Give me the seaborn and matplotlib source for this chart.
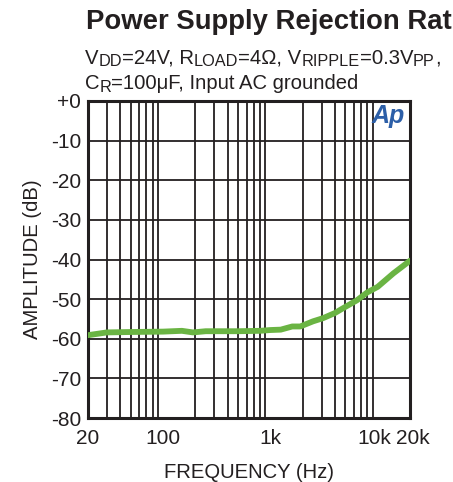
import matplotlib
matplotlib.use("Agg")
import matplotlib.pyplot as plt
import matplotlib.ticker as mticker
import matplotlib.transforms as mtransforms
import seaborn as sns
import pandas as pd

freq_hz = [20, 30, 50, 100, 150, 190, 250, 500, 800, 1000, 1250, 1600, 1900,
           2500, 3100, 4000, 4750, 6400, 8000, 10000, 14000, 20000]
amplitude_db = [-59.1, -58.4, -58.3, -58.2, -58.0, -58.4, -58.1, -58.1, -58.0, -57.8,
                -57.7, -56.9, -56.9, -55.6, -54.8, -53.5, -52.3, -50.3, -48.3, -46.9,
                -43.5, -40.3]
x_tick_vals = [20, 100, 1000, 10000, 20000]
x_tick_labels = ["20", "100", "1k", "10k", "20k"]
y_tick_vals = [0, -10, -20, -30, -40, -50, -60, -70, -80]
y_tick_labels = ["+0", "-10", "-20", "-30", "-40", "-50", "-60", "-70", "-80"]

sns.set_style("white")
plt.rcParams['font.family'] = ['Liberation Sans', 'DejaVu Sans']

df = pd.DataFrame({"freq": freq_hz, "amp": amplitude_db})

fig = plt.figure(figsize=(4.53, 4.82), dpi=100)
ax = fig.add_axes([88/453, 1-418/482, (410-88)/453, (418-101)/482])

ink = "#231f20"
ax.set_xscale("log")
ax.set_xlim(20, 20000)
ax.set_ylim(-80, 0)

minor_x = [v * d for d in (10, 100, 1000) for v in range(2, 10)]
for v in minor_x:
    if 20 < v < 20000:
        ax.axvline(v, color=ink, lw=1.3, zorder=1)
for v in [-10, -20, -30, -40, -50, -60, -70]:
    ax.axhline(v, color=ink, lw=1.3, zorder=1)

sns.lineplot(data=df, x="freq", y="amp", ax=ax, color="#6ab443", lw=4.2, zorder=3)

ax.xaxis.set_major_locator(mticker.FixedLocator(x_tick_vals))
ax.xaxis.set_major_formatter(mticker.FixedFormatter(x_tick_labels))
ax.xaxis.set_minor_locator(mticker.NullLocator())
ax.set_yticks(y_tick_vals)
ax.set_yticklabels(y_tick_labels)
ax.tick_params(axis="both", length=0, labelsize=15, colors=ink)
ax.tick_params(axis="x", pad=8)
ax.tick_params(axis="y", pad=5)

for s in ax.spines.values():
    s.set_color(ink)
    s.set_linewidth(2.2)
    s.set_visible(True)

ax.set_xlabel("FREQUENCY (Hz)", fontsize=14.6, color=ink, labelpad=11)
ax.set_ylabel("AMPLITUDE (dB)", fontsize=14.6, color=ink, labelpad=6)

fig.text(86/453, 1-22/482, "Power Supply Rejection Ratio", fontsize=19.8,
         fontweight="bold", color=ink, va="center", ha="left")

fig.canvas.draw()
renderer = fig.canvas.get_renderer()

# nudge the last two x labels apart as in the reference
shifts = {10000: -3, 20000: 3}
for tick in ax.xaxis.get_major_ticks():
    dx = shifts.get(tick.get_loc(), 0)
    if dx:
        lab = tick.label1
        lab.set_transform(lab.get_transform() +
                          mtransforms.ScaledTranslation(dx / 100, 0, fig.dpi_scale_trans))

# subtitle lines built from pieces so subscripts have the reference proportions
main_fs = 14.6
sub_fs = 11.7

def draw_runs(x0_px, base_px, runs):
    x = x0_px
    for txt, is_sub in runs:
        fs = sub_fs if is_sub else main_fs
        yb = base_px + (2.5 if is_sub else 0)
        t = fig.text(x / 453, 1 - yb / 482, txt, fontsize=fs, color=ink,
                     ha="left", va="baseline")
        bb = t.get_window_extent(renderer=renderer)
        x += bb.width

draw_runs(85, 64, [("V", False), ("DD", True), ("=24V, R", False), ("LOAD", True),
                   ("=4Ω, V", False), ("RIPPLE", True), ("=0.3V", False),
                   ("PP", True), (",", False)])
draw_runs(85, 89, [("C", False), ("R", True), ("=100μF, Input AC grounded", False)])

ax.text(0.985, 0.99, "Ap", transform=ax.transAxes, fontsize=18, fontweight="bold",
        fontstyle="italic", color="#2d5fa8", ha="right", va="top", zorder=4)

fig.savefig("out.png", dpi=100)
